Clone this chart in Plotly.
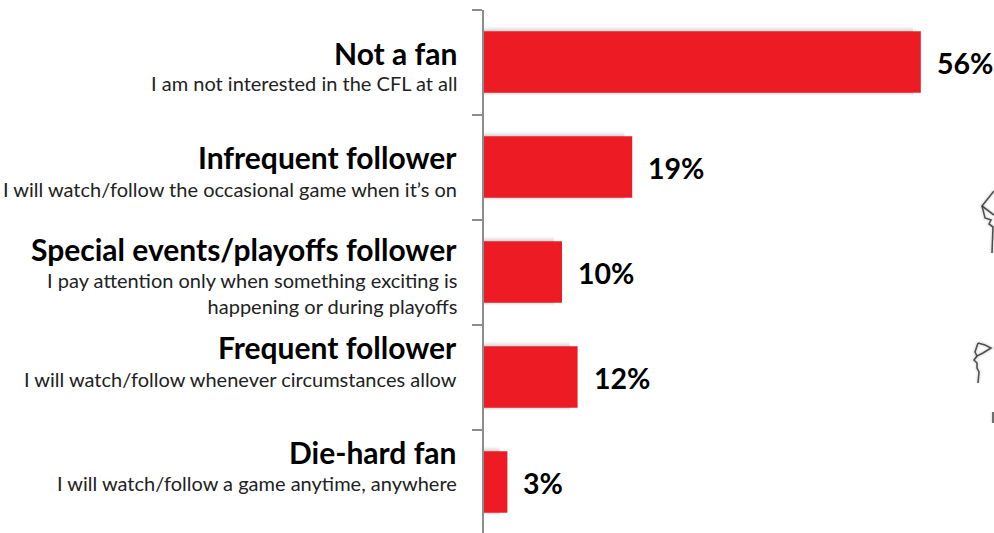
import plotly.graph_objects as go

titles = ["Not a fan", "Infrequent follower", "Special events/playoffs follower",
          "Frequent follower", "Die-hard fan"]
descriptions = ["I am not interested in the CFL at all",
                "I will watch/follow the occasional game when it’s on",
                "I pay attention only when something exciting is<br>happening or during playoffs",
                "I will watch/follow whenever circumstances allow",
                "I will watch/follow a game anytime, anywhere"]
shares = [56, 19, 10, 12, 3]

FONT = "Lato, Carlito, Calibri, sans-serif"
W, H = 994, 533
AXIS_X = 484
AXIS_TOP = 9.5
BAND = 105.0
PX_PER_PCT = 7.8
BAR_WIDTH = 0.585

# vertical distance in pixels from each band centre to its two text blocks
title_offsets = [9, 10, 23, 30, 30]
desc_offsets = [-21, -22, -21, -2, -1]

# outline fragments of a map cut off by the right edge, in page pixels
outline_paths = [
    [(994, 191), (982, 206), (985, 218), (991, 220), (989, 224), (993, 227), (992, 253)],
    [(982, 206), (994, 215)],
    [(978, 343), (975, 352), (977, 356), (983, 353), (991, 348), (985, 345), (978, 343)],
    [(977, 356), (974, 360), (977, 363), (977, 368), (979, 372), (978, 383)],
    [(993, 412), (993, 423)],
]


def page_path(points):
    coords = [f"{x / W:.5f},{1 - y / H:.5f}" for x, y in points]
    return "M" + " L".join(coords)


fig = go.Figure()

# soft shadow layers behind the bars, stronger above than below
for grow_up, grow_down, alpha in [(0.045, 0.025, 0.05), (0.03, 0.015, 0.08), (0.015, 0.005, 0.12)]:
    fig.add_trace(go.Bar(
        y=list(range(5)), x=[max(v - 1, 0) for v in shares], orientation="h",
        width=BAR_WIDTH + grow_up + grow_down, offset=-BAR_WIDTH / 2 - grow_up,
        marker=dict(color=f"rgba(90,90,90,{alpha})", line_width=0),
        hoverinfo="skip", showlegend=False))

fig.add_trace(go.Bar(
    y=list(range(5)), x=shares, orientation="h", width=BAR_WIDTH,
    marker=dict(color="#ED1C24", line_width=0),
    showlegend=False,
))

annotations = []
for i, (t, d, v) in enumerate(zip(titles, descriptions, shares)):
    annotations.append(dict(x=0, y=i, xref="x", yref="y", text=f"<b>{t}</b>", showarrow=False,
                            xanchor="right", yanchor="middle", xshift=-25, yshift=title_offsets[i],
                            font=dict(family=FONT, size=30, color="#000000")))
    annotations.append(dict(x=0, y=i, xref="x", yref="y", text=d, showarrow=False, align="right",
                            xanchor="right", yanchor="middle", xshift=-25, yshift=desc_offsets[i],
                            font=dict(family=FONT, size=20, color="#222222")))
    annotations.append(dict(x=v, y=i, xref="x", yref="y", text=f"<b>{v}%</b>", showarrow=False,
                            xanchor="left", yanchor="middle", xshift=14, yshift=-1,
                            font=dict(family=FONT, size=28.5, color="#000000")))

shapes = []
for points in outline_paths:
    for width, colour in [(5, "rgba(120,120,120,0.12)"), (1.6, "rgba(50,50,50,0.85)")]:
        shapes.append(dict(type="path", xref="paper", yref="paper", path=page_path(points),
                           line=dict(color=colour, width=width), layer="below"))

fig.update_layout(
    width=W, height=H, margin=dict(l=0, r=0, t=0, b=0),
    paper_bgcolor="white", plot_bgcolor="white", barmode="overlay",
    annotations=annotations, shapes=shapes, showlegend=False,
    xaxis=dict(domain=[AXIS_X / W, 1], range=[0, (W - AXIS_X) / PX_PER_PCT],
               visible=False, fixedrange=True),
    yaxis=dict(domain=[0, (H - AXIS_TOP) / H],
               range=[-0.5 + (H - AXIS_TOP) / BAND, -0.5],
               tickmode="array", tickvals=[-0.5, 0.5, 1.5, 2.5, 3.5], ticktext=[""] * 5,
               ticks="outside", ticklen=10, tickcolor="#8C8C8C", tickwidth=2,
               showline=True, linecolor="#8C8C8C", linewidth=2,
               showgrid=False, zeroline=False, fixedrange=True),
)

fig.write_html("out.html")
